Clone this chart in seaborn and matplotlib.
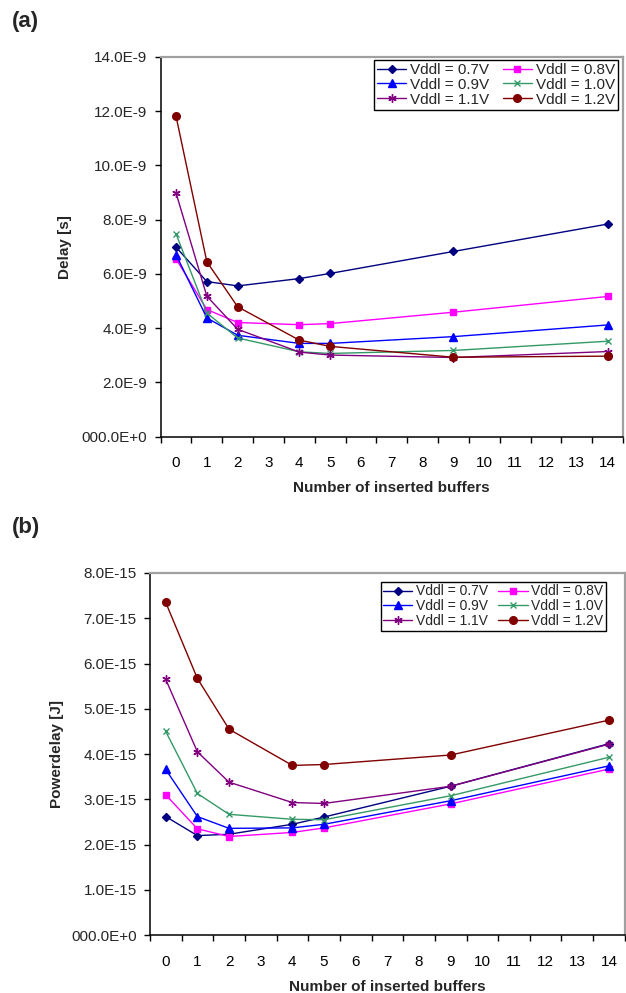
import numpy as np
import pandas as pd
import matplotlib
matplotlib.use("Agg")
import matplotlib.pyplot as plt
from matplotlib.ticker import FixedLocator
import seaborn as sns

sns.set_theme(style="white")
plt.rcParams['font.family'] = ['Liberation Sans', 'DejaVu Sans']

buffers = [0, 1, 2, 4, 5, 9, 14]
series_names = ["Vddl = 0.7V", "Vddl = 0.8V", "Vddl = 0.9V",
                "Vddl = 1.0V", "Vddl = 1.1V", "Vddl = 1.2V"]

# Panel (a): delay in units of 1E-9 s
delay_07 = [6.99, 5.72, 5.56, 5.83, 6.02, 6.83, 7.84]
delay_08 = [6.56, 4.69, 4.21, 4.13, 4.17, 4.59, 5.17]
delay_09 = [6.71, 4.38, 3.74, 3.44, 3.44, 3.69, 4.12]
delay_10 = [7.48, 4.56, 3.64, 3.13, 3.07, 3.18, 3.52]
delay_11 = [8.99, 5.18, 3.96, 3.12, 3.01, 2.92, 3.14]
delay_12 = [11.82, 6.45, 4.79, 3.56, 3.33, 2.93, 2.97]

# Panel (b): power-delay in units of 1E-15 J
pd_07 = [2.62, 2.20, 2.23, 2.45, 2.61, 3.29, 4.23]
pd_08 = [3.10, 2.35, 2.18, 2.27, 2.37, 2.90, 3.67]
pd_09 = [3.66, 2.62, 2.36, 2.37, 2.45, 2.97, 3.74]
pd_10 = [4.50, 3.13, 2.67, 2.56, 2.55, 3.08, 3.93]
pd_11 = [5.65, 4.05, 3.38, 2.93, 2.91, 3.29, 4.22]
pd_12 = [7.35, 5.67, 4.55, 3.75, 3.77, 3.98, 4.75]

delay_ticks = ["000.0E+0", "2.0E-9", "4.0E-9", "6.0E-9", "8.0E-9",
               "10.0E-9", "12.0E-9", "14.0E-9"]
pd_ticks = ["000.0E+0", "1.0E-15", "2.0E-15", "3.0E-15", "4.0E-15",
            "5.0E-15", "6.0E-15", "7.0E-15", "8.0E-15"]

colors = ["#000080", "#FF00FF", "#0000FF", "#339966", "#800080", "#800000"]
markers = ["D", "s", "^", "x", (6, 2, 0), "o"]
msizes = [4.0, 5.0, 5.5, 5.0, 6.0, 5.5]

W, H = 626, 993
fig = plt.figure(figsize=(W / 100, H / 100), dpi=100)


def make_axes(left, right, top, bottom):
    return fig.add_axes([left / W, 1 - bottom / H, (right - left) / W, (bottom - top) / H])


def style_axes(ax, ymax, ystep, yticklabels, ylabel, ylabel_x, legend_fs,
               legend_anchor, hlen, colsp):
    ax.set_xlim(-0.5, 14.5)
    ax.set_ylim(0, ymax)
    ax.set_xticks(range(15))
    ax.set_xticklabels([str(i) for i in range(15)])
    ax.xaxis.set_minor_locator(FixedLocator(np.arange(-0.5, 15, 1)))
    ax.tick_params(axis="x", which="major", length=0, pad=14, labelsize=11, colors="black")
    ax.tick_params(axis="x", which="minor", length=4, width=1, direction="out",
                   bottom=True, color="black")
    yt = np.arange(0, ymax + ystep / 2, ystep)
    ax.set_yticks(yt)
    ax.set_yticklabels(yticklabels)
    ax.tick_params(axis="y", which="major", length=4.5, width=1, direction="out",
                   left=True, pad=5, labelsize=11, color="black")
    for s in ["left", "bottom"]:
        ax.spines[s].set_color("black")
        ax.spines[s].set_linewidth(1.1)
    for s in ["top", "right"]:
        ax.spines[s].set_visible(True)
        ax.spines[s].set_color("#A0A0A0")
        ax.spines[s].set_linewidth(1.6)
    ax.set_xlabel("Number of inserted buffers", fontsize=11, fontweight="bold", labelpad=8)
    ax.set_ylabel(ylabel, fontsize=11, fontweight="bold")
    ax.yaxis.set_label_coords(ylabel_x, 0.5)
    ax.grid(False)
    handles, labels = ax.get_legend_handles_labels()
    order = [0, 2, 4, 1, 3, 5]  # fill legend row-wise: (0.7, 0.8), (0.9, 1.0), (1.1, 1.2)
    leg = ax.legend([handles[i] for i in order], [labels[i] for i in order],
                    ncol=2, loc="upper right", bbox_to_anchor=legend_anchor,
                    bbox_transform=fig.transFigure, fontsize=legend_fs,
                    frameon=True, fancybox=False, framealpha=1, edgecolor="black",
                    handlelength=hlen, handletextpad=0.25, columnspacing=colsp,
                    labelspacing=0.05, borderpad=0.2, borderaxespad=0)
    leg.get_frame().set_linewidth(1.0)


def draw(ax, data):
    for name, vals, c, m, ms in zip(series_names, data, colors, markers, msizes):
        sns.lineplot(x=buffers, y=vals, ax=ax, color=c, marker=m, markersize=ms,
                     markeredgecolor=c, markerfacecolor=c, markeredgewidth=1.0,
                     linewidth=1.0, label=name)


# Panel (a)
ax1 = make_axes(160.6, 623.0, 57.0, 436.7)
draw(ax1, [delay_07, delay_08, delay_09, delay_10, delay_11, delay_12])
style_axes(ax1, 14, 2, delay_ticks, "Delay [s]", -0.192, 11,
           (618 / W, 1 - 60 / H), 1.9, 0.9)
fig.text(12 / W, 1 - 22 / H, "(a)", fontsize=16, fontweight="bold", va="center", ha="left")

# Panel (b)
ax2 = make_axes(149.9, 624.8, 573.0, 935.2)
draw(ax2, [pd_07, pd_08, pd_09, pd_10, pd_11, pd_12])
style_axes(ax2, 8, 1, pd_ticks, "Powerdelay [J]", -0.18, 10,
           (606 / W, 1 - 581.7 / H), 2.1, 0.75)
fig.text(12 / W, 1 - 528 / H, "(b)", fontsize=16, fontweight="bold", va="center", ha="left")

fig.savefig("out.png", dpi=100)
